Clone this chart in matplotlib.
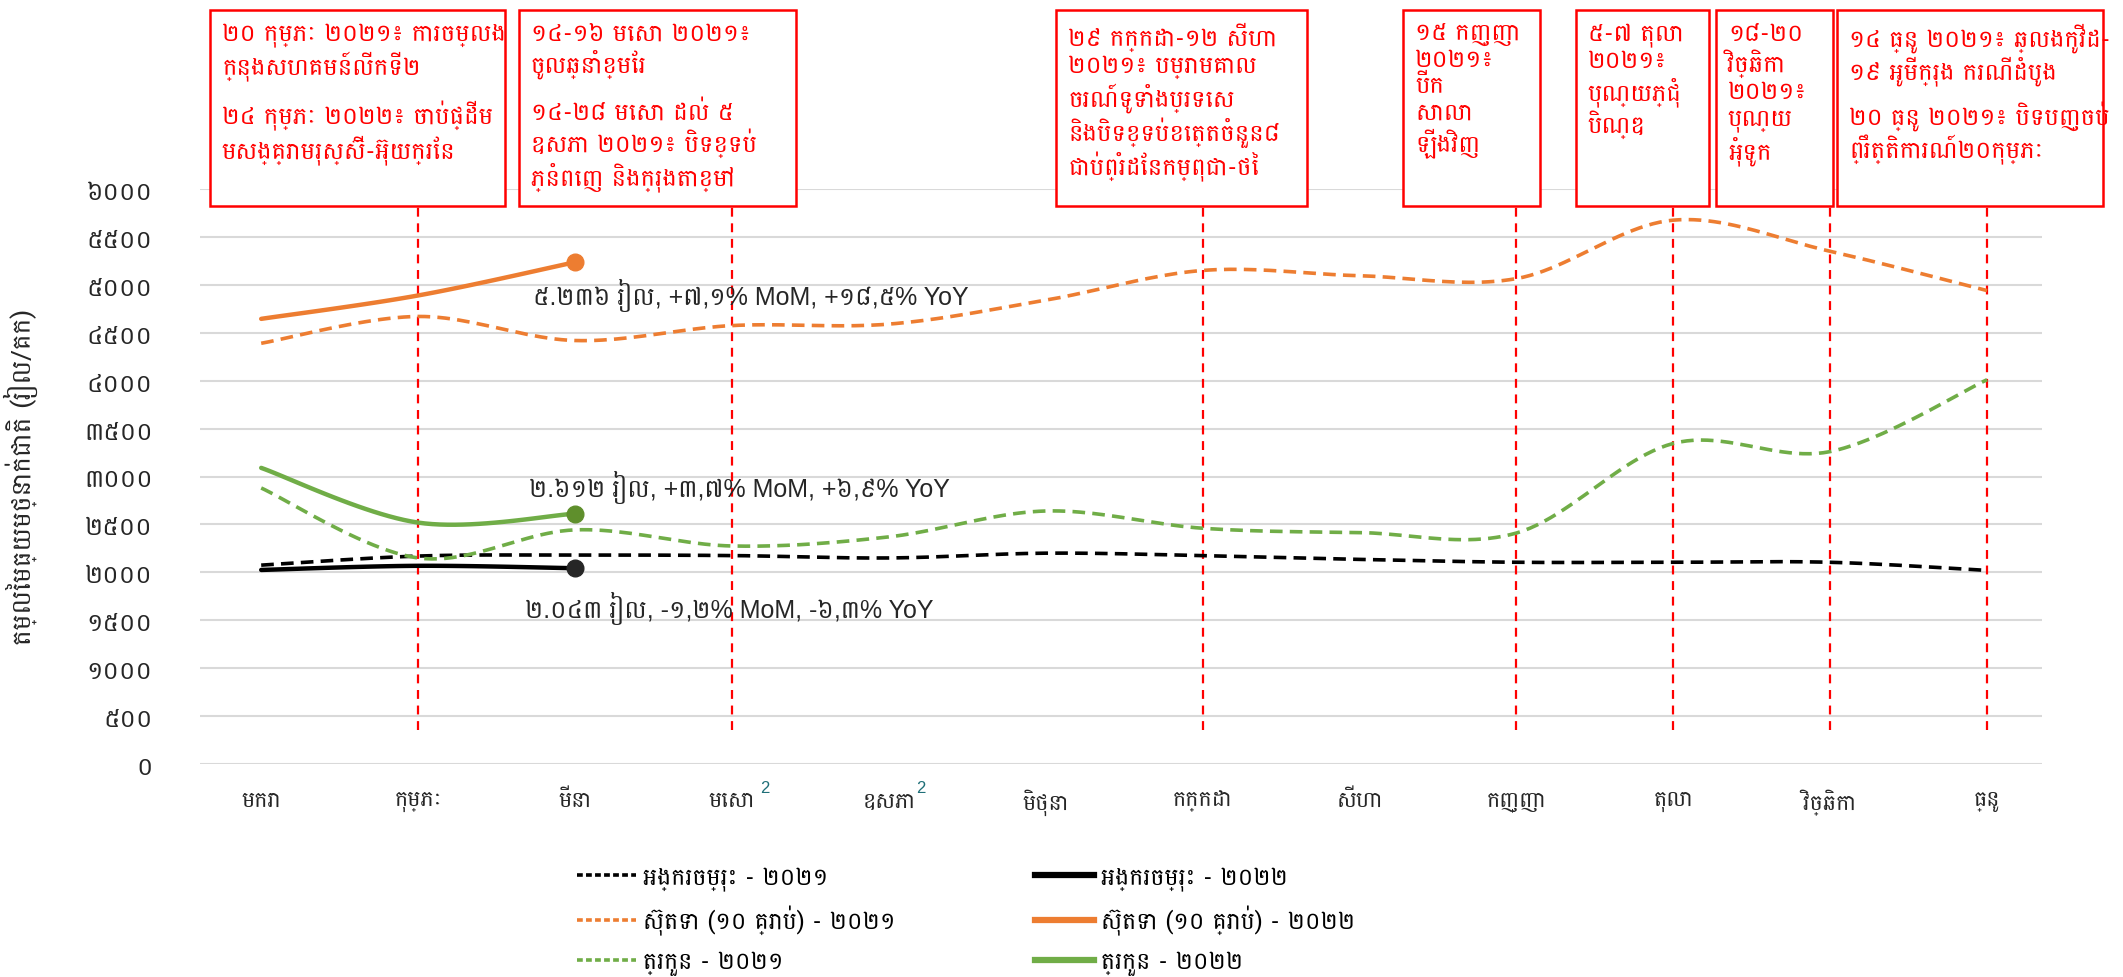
import numpy as np
import matplotlib
matplotlib.use("Agg")
import matplotlib.pyplot as plt
from matplotlib.patches import Rectangle
from matplotlib.lines import Line2D

# ---------------------------------------------------------------------------
# Data (riel / kg)
# ---------------------------------------------------------------------------
MONTHS = ["មករា", "កុម្ភៈ", "មីនា", "មេសា", "ឧសភា", "មិថុនា",
          "កក្កដា", "សីហា", "កញ្ញា", "តុលា", "វិច្ឆិកា", "ធ្នូ"]
SUPERSCRIPT_MONTHS = [3, 4]          # months flagged with a footnote "2"

RICE_2021 = [2075, 2170, 2180, 2175, 2150, 2200, 2175, 2135, 2105, 2105, 2105, 2020]
RICE_2022 = [2025, 2068, 2043]
PORK_2021 = [4390, 4670, 4419, 4575, 4590, 4840, 5150, 5095, 5065, 5675, 5350, 4940]
PORK_2022 = [4645, 4889, 5236]
FISH_2021 = [2880, 2150, 2443, 2275, 2370, 2640, 2460, 2415, 2410, 3345, 3260, 4010]
FISH_2022 = [3090, 2519, 2612]

LABELS_2022 = [
    "៥.២៣៦ រៀល, +៧,១% MoM, +១៨,៥% YoY",
    "២.៦១២ រៀល, +៣,៧% MoM, +៦,៩% YoY",
    "២.០៤៣ រៀល, -១,២% MoM, -៦,៣% YoY",
]

LEGEND_LABELS = [
    "អង្ករចម្រុះ - ២០២១", "ស៊ុតទា (១០ គ្រាប់) - ២០២១", "ត្រកួន - ២០២១",
    "អង្ករចម្រុះ - ២០២២", "ស៊ុតទា (១០ គ្រាប់) - ២០២២", "ត្រកួន - ២០២២",
]

EVENT_MONTHS = [1, 3, 6, 8, 9, 10, 11]
EVENT_TEXTS = [
    ["២០ កុម្ភៈ ២០២១៖ ការចម្លង\nក្នុងសហគមន៍លើកទី២",
     "២៤ កុម្ភៈ ២០២២៖ ចាប់ផ្ដើម\nមសង្គ្រាមរុស្ស៊ី-អ៊ុយក្រែន"],
    ["១៤-១៦ មេសា ២០២១៖\nចូលឆ្នាំខ្មែរ",
     "១៤-២៨ មេសា ដល់ ៥\nឧសភា ២០២១៖ បិទខ្ទប់\nភ្នំពេញ និងក្រុងតាខ្មៅ"],
    ["២៩ កក្កដា-១២ សីហា\n២០២១៖ បម្រាមគោល\nចរណ៍ទូទាំងប្រទេស\nនិងបិទខ្ទប់ខេត្តចំនួន៨\nជាប់ព្រំដែនកម្ពុជា-ថៃ"],
    ["១៥ កញ្ញា\n២០២១៖\nបើក\nសាលា\nឡើងវិញ"],
    ["៥-៧ តុលា\n២០២១៖\nបុណ្យភ្ជុំ\nបិណ្ឌ"],
    ["១៨-២០\nវិច្ឆិកា\n២០២១៖\nបុណ្យ\nអុំទូក"],
    ["១៤ ធ្នូ ២០២១៖ ឆ្លងកូវីដ-\n១៩ អូមីក្រុង ករណីដំបូង",
     "២០ ធ្នូ ២០២១៖ បិទបញ្ចប់\nព្រឹត្តិការណ៍២០កុម្ភៈ"],
]

Y_TICKS = list(range(0, 6001, 500))

# ---------------------------------------------------------------------------
# Style
# ---------------------------------------------------------------------------
KH = ["Battambang", "DejaVu Sans"]
LAT_KH = ["Liberation Sans", "Battambang", "DejaVu Sans"]
ORANGE, GREEN, BLACK = "#ED7D31", "#70AD47", "#000000"
GRID = "#D9D9D9"
RED = "#FF0000"
TXT = "#262626"
KH_DIGITS = str.maketrans("0123456789", "០១២៣៤៥៦៧៨៩")
DASH = (0, (3.5, 2))

W, H = 2123, 978


def fx(px):
    return px / W


def fy(py):
    return 1 - py / H


def smooth(ys, n=24):
    """Excel-style smoothed line (Bezier through every point)."""
    y = np.asarray(ys, float)
    x = np.arange(len(y), dtype=float)
    xp = np.concatenate([[x[0]], x, [x[-1]]])
    yp = np.concatenate([[y[0]], y, [y[-1]]])
    t = np.linspace(0, 1, n)[:, None]
    out = []
    for i in range(len(y) - 1):
        p0 = np.array([xp[i], yp[i]])
        p1 = np.array([xp[i + 1], yp[i + 1]])
        p2 = np.array([xp[i + 2], yp[i + 2]])
        p3 = np.array([xp[i + 3], yp[i + 3]])
        c1 = p1 + (p2 - p0) / 6
        c2 = p2 - (p3 - p1) / 6
        seg = ((1 - t) ** 3) * p1 + 3 * ((1 - t) ** 2) * t * c1 \
            + 3 * (1 - t) * t ** 2 * c2 + t ** 3 * p2
        out.append(seg if i == 0 else seg[1:])
    pts = np.vstack(out)
    return pts[:, 0], pts[:, 1]


fig = plt.figure(figsize=(W / 100, H / 100), dpi=100)
ax = fig.add_axes([fx(200), fy(765), fx(2042 - 200), (765 - 190) / H])

ax.set_xlim(-0.39, 11.35)
ax.set_ylim(0, 6000)
for s in ax.spines.values():
    s.set_visible(False)
ax.set_yticks(Y_TICKS)
ax.yaxis.grid(True, color=GRID, linewidth=1.5)
ax.set_axisbelow(True)
ax.tick_params(length=0)
ax.set_yticklabels([str(v).translate(KH_DIGITS) for v in Y_TICKS],
                   family=KH, fontsize=18, color=TXT)
ax.tick_params(axis="y", pad=34)
ax.set_xticks(range(len(MONTHS)))
ax.set_xticklabels(MONTHS, family=KH, fontsize=16, color=TXT)
ax.tick_params(axis="x", pad=18)
for i in SUPERSCRIPT_MONTHS:
    ax.annotate("2", xy=(i, 0), xycoords=("data", "axes fraction"),
                xytext=(20, -17), textcoords="offset points",
                fontsize=12, color="#1F6F78", family="Liberation Sans",
                ha="left", va="center")
ax.set_ylabel("តម្លៃមធ្យមថ្នាក់ជាតិ (រៀល/គក)", family=KH, fontsize=19, color=TXT)
ax.yaxis.set_label_coords(-0.088, 0.5)

# event marker lines
for m in EVENT_MONTHS:
    ax.plot([m, m], [350, 5820], color=RED, linestyle=(0, (4, 3)),
            linewidth=1.6, zorder=2)

series = [
    (RICE_2021, RICE_2022, BLACK, "#262626"),
    (PORK_2021, PORK_2022, ORANGE, ORANGE),
    (FISH_2021, FISH_2022, GREEN, "#5F8F2C"),
]
handles21, handles22 = [], []
for y21, y22, col, mcol in series:
    sx, sy = smooth(y21)
    ax.plot(sx, sy, color=col, linestyle=DASH, linewidth=2.6, zorder=3)
    handles21.append(Line2D([], [], color=col, linestyle=(0, (1.6, 0.9)), linewidth=2.6))
    sx, sy = smooth(y22)
    ax.plot(sx, sy, color=col, linewidth=3.2, zorder=4, solid_capstyle="round")
    handles22.append(Line2D([], [], color=col, linewidth=4.5))
    ax.plot(len(y22) - 1, y22[-1], "o", color=mcol, markersize=12, zorder=5)

# data labels next to the latest point
label_offsets = [(-42, -32), (-46, 27), (-50, -39)]
for (y21, y22, col, mcol), txt, off in zip(
        [series[1], series[2], series[0]], LABELS_2022, label_offsets):
    ax.annotate(txt, xy=(len(y22) - 1, y22[-1]), xytext=off,
                textcoords="offset pixels", ha="left", va="center",
                family=LAT_KH, fontsize=18, color=TXT, zorder=6)

# event boxes (figure pixel coordinates)
BOXES = [(210, 505), (519, 796), (1056, 1307), (1403, 1540),
         (1576, 1709), (1716, 1833), (1837, 2103)]
BOX_TOP, BOX_BOT = 11, 207
for (l, r), paras in zip(BOXES, EVENT_TEXTS):
    fig.add_artist(Rectangle((fx(l), fy(BOX_BOT)), fx(r - l), (BOX_BOT - BOX_TOP) / H,
                             transform=fig.transFigure, facecolor="white",
                             edgecolor=RED, linewidth=1.8, zorder=10))
    ytop = BOX_TOP + 12
    for p in paras:
        fig.text(fx(l + 12), fy(ytop), p, family=KH, fontsize=17.5,
                 color=RED, ha="left", va="top", linespacing=1.17, zorder=11)
        ytop += 35 * (p.count("\n") + 1) + 8

# legend
fig.legend(handles21 + handles22, LEGEND_LABELS, ncol=2, loc="upper center",
           bbox_to_anchor=(0.455, fy(850)), frameon=False,
           prop={"family": KH, "size": 17}, handlelength=2.5,
           columnspacing=5.9, labelspacing=0.63, handletextpad=0.3,
           borderpad=0.2)

fig.savefig("out.png", dpi=100, facecolor="white")
